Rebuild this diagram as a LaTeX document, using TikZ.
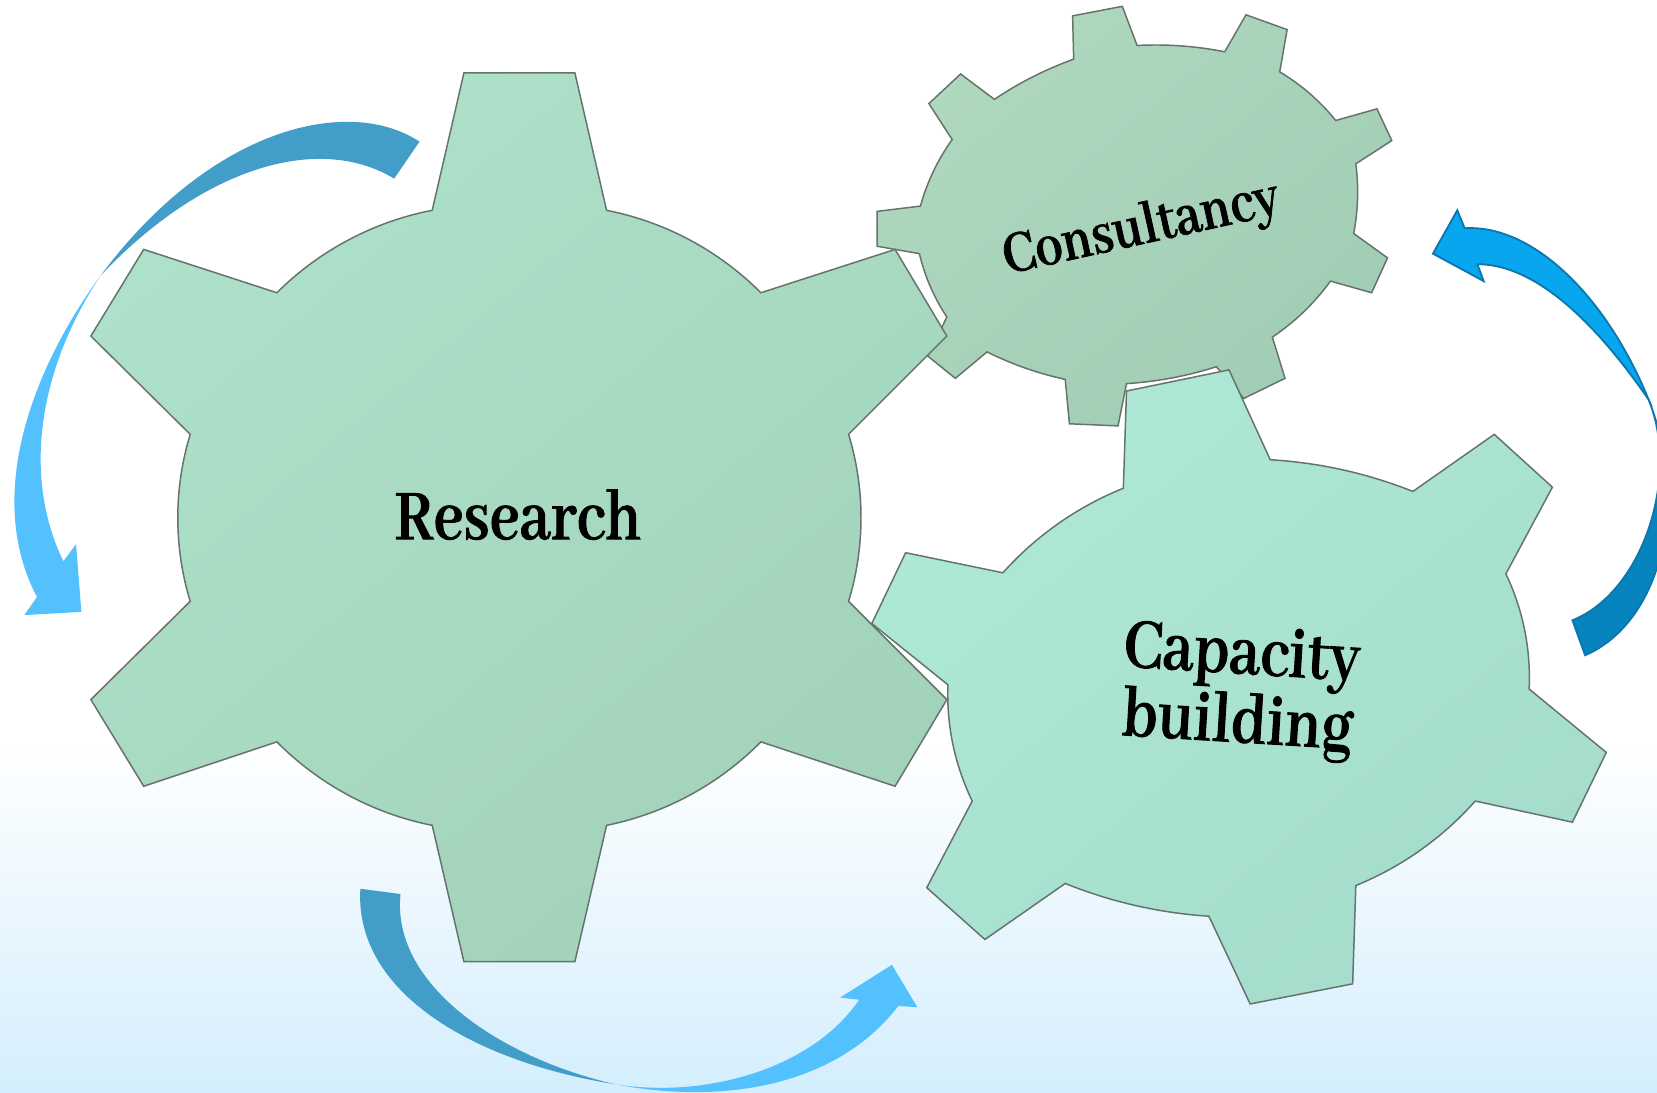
\documentclass[tikz,border=0pt]{standalone}
\usepackage{xcolor}
\usepackage{fontspec}
\setmainfont{Abhaya Libre}[Script=Latin]
\newfontfamily\gearfont{Abhaya Libre}[Script=Latin, FakeStretch=0.84, FakeBold=1.2]
\definecolor{bgblue}{HTML}{D4EEFD}
\definecolor{ribbondark}{HTML}{429DC9}
\definecolor{ribbonlight}{HTML}{53C1FD}
\definecolor{swingdark}{HTML}{0783BD}
\definecolor{swinglight}{HTML}{08A6EE}
\definecolor{swingline}{HTML}{0B77AE}
\definecolor{gearline}{HTML}{66736C}
\definecolor{consultlight}{HTML}{AFD8BE}
\definecolor{consultdark}{HTML}{A0CDB4}
\definecolor{capacitylight}{HTML}{AEE8D6}
\definecolor{capacitydark}{HTML}{A5DCCB}
\definecolor{researchlight}{HTML}{AEE1CA}
\definecolor{researchdark}{HTML}{A2D2B9}
\tikzset{
  gearshape/.style={draw=gearline, line width=0.4pt, line join=miter, looseness=0.87},
  gearlabel/.style={font=\gearfont\bfseries\fontsize{#1}{18.5}\selectfont, text=black, align=center, inner sep=0pt},
}
\begin{document}
\begin{tikzpicture}[x=0.1mm, y=-0.1mm]
      \useasboundingbox (0,0) rectangle (1568,1034);
      % Background
      \fill[white] (0,0) rectangle (1568,1034);
      \shade[top color=white, bottom color=bgblue] (0,700) rectangle (1568,1034);

      % Consultancy
      \path[gearshape, top color=consultlight, bottom color=consultdark, shading angle=40]
        (1015,15) -- (1062,6) -- (1076,43) to[bend left=7] (1159,49)
        -- (1179,14) -- (1218,28) -- (1211,68) to[bend left=10] (1264,114)
        -- (1303,103) -- (1317,133) -- (1283,155) to[bend left=9] (1281,221)
        -- (1313,244) -- (1298,277) -- (1259,266) to[bend left=10] (1204,319)
        -- (1216,358) -- (1177,377) -- (1151,347) to[bend left=7] (1066,363)
        -- (1058,403) -- (1012,401) -- (1008,359) to[bend left=7] (934,333)
        -- (904,358) -- (878,337) -- (896,300) to[bend left=10] (870,240)
        -- (830,233) -- (830,200) -- (871,195) to[bend left=10] (901,132)
        -- (879,98) -- (909,70) -- (941,94) to[bend left=7] (1016,56) -- cycle;
      \node[gearlabel=17.5, rotate=12.5] (consultancy) at (1080,217) {Consultancy};

      % Capacity building
      \path[gearshape, top color=capacitylight, bottom color=capacitydark, shading angle=40]
        (1066,370) -- (1163,350) -- (1202,435) to[bend left=9] (1337,465)
        -- (1414,411) -- (1469,461) -- (1425,543) to[bend left=14] (1447,652)
        -- (1520,712) -- (1488,778) -- (1396,758) to[bend left=13] (1283,838)
        -- (1280,931) -- (1183,950) -- (1144,867) to[bend left=9] (1008,836)
        -- (932,889) -- (877,840) -- (920,758) to[bend left=14] (897,648)
        -- (825,590) -- (857,523) -- (949,542) to[bend left=13] (1063,462) -- cycle;
      \node[gearlabel=21, rotate=-3.5] (capacity) at (1173,654) {Capacity\\building};

      % Research
      \path[gearshape, top color=researchlight, bottom color=researchdark, shading angle=40]
        (439,69) -- (544,69) -- (574,199) to[bend left=17] (720,277)
        -- (847,236) -- (896,318) -- (803,411) to[bend left=17] (803,569)
        -- (896,662) -- (847,744) -- (720,702) to[bend left=17] (574,781)
        -- (544,910) -- (439,910) -- (409,781) to[bend left=17] (262,702)
        -- (136,744) -- (86,662) -- (180,569) to[bend left=17] (180,411)
        -- (86,318) -- (136,236) -- (262,277) to[bend left=17] (409,199) -- cycle;
      \node[gearlabel=21] (research) at (490,487) {Research};

      % Arrow at the left
      \fill[ribbondark] (397,134) .. controls (330,90) and (200,120) .. (95,261)
        .. controls (190,160) and (300,125) .. (373,169) -- cycle;
      \fill[ribbonlight] (95,261) .. controls (30,350) and (-15,470) .. (35,565)
        -- (23,582) -- (77,579) -- (72,515) -- (60,531)
        .. controls (25,460) and (30,360) .. (95,261) -- cycle;

      % Arrow at the bottom
      \fill[ribbondark] (341,841) .. controls (335,940) and (450,1005) .. (582,1026)
        .. controls (470,1000) and (370,930) .. (379,846) -- cycle;
      \fill[ribbonlight] (582,1026) .. controls (680,1045) and (790,1030) .. (850,952)
        -- (868,953) -- (844,913) -- (795,944) -- (813,946)
        .. controls (770,1010) and (670,1040) .. (582,1026) -- cycle;

      % Arrow at the right
      \fill[swingdark, draw=swingline, line width=0.5pt] (1560,378) .. controls (1600,480) and (1570,590) .. (1500,620)
        -- (1488,587) .. controls (1555,560) and (1590,450) .. (1560,378) -- cycle;
      \fill[swinglight, draw=swingline, line width=0.5pt] (1560,378) .. controls (1520,280) and (1450,212) .. (1386,216)
        -- (1379,199) -- (1356,240) -- (1404,266) -- (1398,250)
        .. controls (1460,250) and (1520,320) .. (1560,378) -- cycle;
    \end{tikzpicture}
\end{document}
